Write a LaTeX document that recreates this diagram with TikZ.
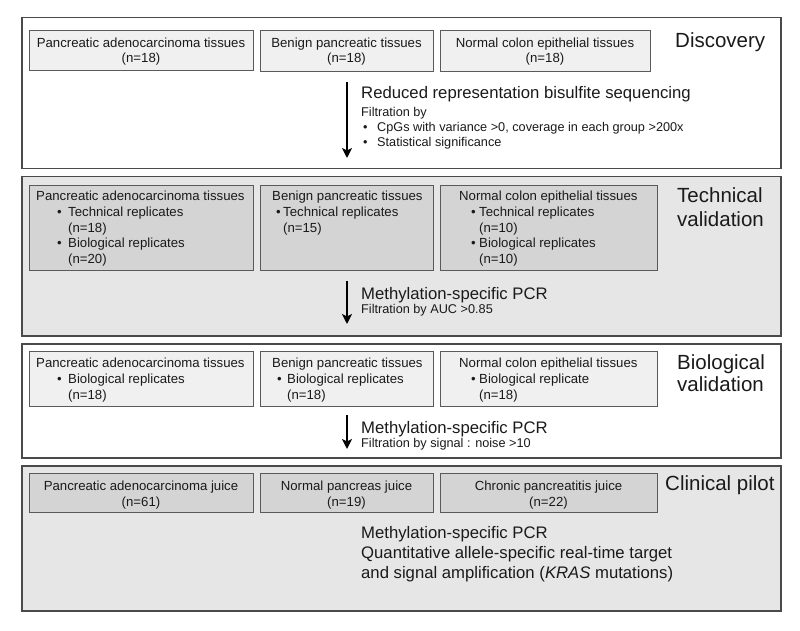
\documentclass[tikz,border=0pt]{standalone}
\usepackage{fontspec}
\setmainfont{Liberation Sans}
\usetikzlibrary{arrows.meta}
\definecolor{pline}{HTML}{4A4A4A}
\definecolor{bline}{HTML}{5A5A5A}
\definecolor{lightfill}{HTML}{F0F0F0}
\definecolor{panelgray}{HTML}{E6E6E6}
\definecolor{boxgray}{HTML}{D4D4D4}
\definecolor{txt}{HTML}{1A1A1A}
\tikzset{
  panel/.style={draw=pline, line width=1.5pt, anchor=north west, inner sep=0pt},
  tbox/.style={draw=bline, line width=1pt, anchor=north west, inner sep=0pt},
  bt/.style={anchor=base west, inner sep=0pt, text=txt, font=\fontsize{13.2}{16}\selectfont},
  btc/.style={anchor=base, inner sep=0pt, text=txt, font=\fontsize{13.2}{16}\selectfont},
  big/.style={anchor=base west, inner sep=0pt, text=txt, font=\fontsize{20.5}{24}\selectfont},
  meth/.style={anchor=base west, inner sep=0pt, text=txt, font=\fontsize{16.7}{20}\selectfont},
  small/.style={anchor=base west, inner sep=0pt, text=txt, font=\fontsize{12.7}{15}\selectfont},
  flow/.style={line width=2pt, draw=black, -{Stealth[length=10pt,width=10pt,inset=2.5pt]}}
}
\begin{document}
\begin{tikzpicture}[x=1pt,y=-1pt]
\useasboundingbox (0,0) rectangle (800,631);
% ---------- panels
\node[panel, fill=white, minimum width=759pt, minimum height=151pt] (p1) at (21,17) {};
\node[panel, fill=panelgray, minimum width=759pt, minimum height=159pt] (p2) at (21,176) {};
\node[panel, fill=white, minimum width=759pt, minimum height=114pt] (p3) at (21,343) {};
\node[panel, fill=panelgray, minimum width=759pt, minimum height=145pt] (p4) at (21,465) {};
% ---------- Discovery
\node[tbox, fill=lightfill, minimum width=224pt, minimum height=40pt] (b11) at (29,30) {};
\node[tbox, fill=lightfill, minimum width=173pt, minimum height=41pt] (b12) at (260,30) {};
\node[tbox, fill=lightfill, minimum width=210pt, minimum height=41pt] (b13) at (440,30) {};
\node[btc] (t11a) at (141,47.5) {Pancreatic adenocarcinoma tissues};
\node[btc] (t11b) at (141,63) {(n=18)};
\node[btc] (t12a) at (346.5,47.5) {Benign pancreatic tissues};
\node[btc] (t12b) at (346.5,63) {(n=18)};
\node[btc] (t13a) at (545,47.5) {Normal colon epithelial tissues};
\node[btc] (t13b) at (545,63) {(n=18)};
\node[big] (l1) at (675,48) {Discovery};
\coordinate (a1s) at (347,82);
\coordinate (a1e) at (347,158);
\draw[flow] (a1s) -- (a1e);
\node[meth] (m1) at (361,99) {Reduced representation bisulfite sequencing};
\node[small] (f1) at (361,116.5) {Filtration by};
\node[small] (f1b1) at (363,131.5) {•};
\node[small] (f1c1) at (377,131.5) {CpGs with variance >0, coverage in each group >200x};
\node[small] (f1b2) at (363,146.5) {•};
\node[small] (f1c2) at (377,146.5) {Statistical significance};
% ---------- Technical validation
\node[tbox, fill=boxgray, minimum width=224pt, minimum height=85pt] (b21) at (29,185) {};
\node[tbox, fill=boxgray, minimum width=173pt, minimum height=85pt] (b22) at (260,185) {};
\node[tbox, fill=boxgray, minimum width=217pt, minimum height=85pt] (b23) at (440,185) {};
\node[bt] (t21a) at (36,200.7) {Pancreatic adenocarcinoma tissues};
\node[bt] (t21b) at (57,216.4) {•};
\node[bt] (t21c) at (68,216.4) {Technical replicates};
\node[bt] (t21d) at (68,232.1) {(n=18)};
\node[bt] (t21e) at (57,247.8) {•};
\node[bt] (t21f) at (68,247.8) {Biological replicates};
\node[bt] (t21g) at (68,263.5) {(n=20)};
\node[bt] (t22a) at (272,200.7) {Benign pancreatic tissues};
\node[bt] (t22b) at (276,216.4) {•};
\node[bt] (t22c) at (283,216.4) {Technical replicates};
\node[bt] (t22d) at (283,232.1) {(n=15)};
\node[bt] (t23a) at (459,200.7) {Normal colon epithelial tissues};
\node[bt] (t23b) at (471,216.4) {•};
\node[bt] (t23c) at (479,216.4) {Technical replicates};
\node[bt] (t23d) at (479,232.1) {(n=10)};
\node[bt] (t23e) at (471,247.8) {•};
\node[bt] (t23f) at (479,247.8) {Biological replicates};
\node[bt] (t23g) at (479,263.5) {(n=10)};
\node[big] (l2a) at (677,202.3) {Technical};
\node[big] (l2b) at (677,226.8) {validation};
\coordinate (a2s) at (347,281);
\coordinate (a2e) at (347,324);
\draw[flow] (a2s) -- (a2e);
\node[meth] (m2) at (361,299) {Methylation-specific PCR};
\node[small] (f2) at (361,313.6) {Filtration by AUC >0.85};
% ---------- Biological validation
\node[tbox, fill=lightfill, minimum width=224pt, minimum height=55pt] (b31) at (29,351) {};
\node[tbox, fill=lightfill, minimum width=173pt, minimum height=55pt] (b32) at (260,351) {};
\node[tbox, fill=lightfill, minimum width=217pt, minimum height=55pt] (b33) at (440,351) {};
\node[bt] (t31a) at (36,367.7) {Pancreatic adenocarcinoma tissues};
\node[bt] (t31b) at (57,383.4) {•};
\node[bt] (t31c) at (68,383.4) {Biological replicates};
\node[bt] (t31d) at (68,399) {(n=18)};
\node[bt] (t32a) at (272,367.7) {Benign pancreatic tissues};
\node[bt] (t32b) at (277,383.4) {•};
\node[bt] (t32c) at (287,383.4) {Biological replicates};
\node[bt] (t32d) at (287,399) {(n=18)};
\node[bt] (t33a) at (459,367.7) {Normal colon epithelial tissues};
\node[bt] (t33b) at (471,383.4) {•};
\node[bt] (t33c) at (479,383.4) {Biological replicate};
\node[bt] (t33d) at (479,399) {(n=18)};
\node[big] (l3a) at (677,369) {Biological};
\node[big] (l3b) at (677,391) {validation};
\coordinate (a3s) at (347,415);
\coordinate (a3e) at (347,449);
\draw[flow] (a3s) -- (a3e);
\node[meth] (m3) at (361,433) {Methylation-specific PCR};
\node[small] (f3) at (361,447.6) {Filtration by signal : noise >10};
% ---------- Clinical pilot
\node[tbox, fill=boxgray, minimum width=224pt, minimum height=39pt] (b41) at (29,473) {};
\node[tbox, fill=boxgray, minimum width=173pt, minimum height=39pt] (b42) at (260,473) {};
\node[tbox, fill=boxgray, minimum width=217pt, minimum height=39pt] (b43) at (440,473) {};
\node[btc] (t41a) at (141,490.7) {Pancreatic adenocarcinoma juice};
\node[btc] (t41b) at (141,506.4) {(n=61)};
\node[btc] (t42a) at (346.5,490.7) {Normal pancreas juice};
\node[btc] (t42b) at (346.5,506.4) {(n=19)};
\node[btc] (t43a) at (548.5,490.7) {Chronic pancreatitis juice};
\node[btc] (t43b) at (548.5,506.4) {(n=22)};
\node[big] (l4) at (665,490) {Clinical pilot};
\node[meth] (m4a) at (361,538) {Methylation-specific PCR};
\node[meth] (m4b) at (361,558) {Quantitative allele-specific real-time target};
\node[meth] (m4c) at (361,578) {and signal amplification (\textit{KRAS} mutations)};
\end{tikzpicture}
\end{document}
